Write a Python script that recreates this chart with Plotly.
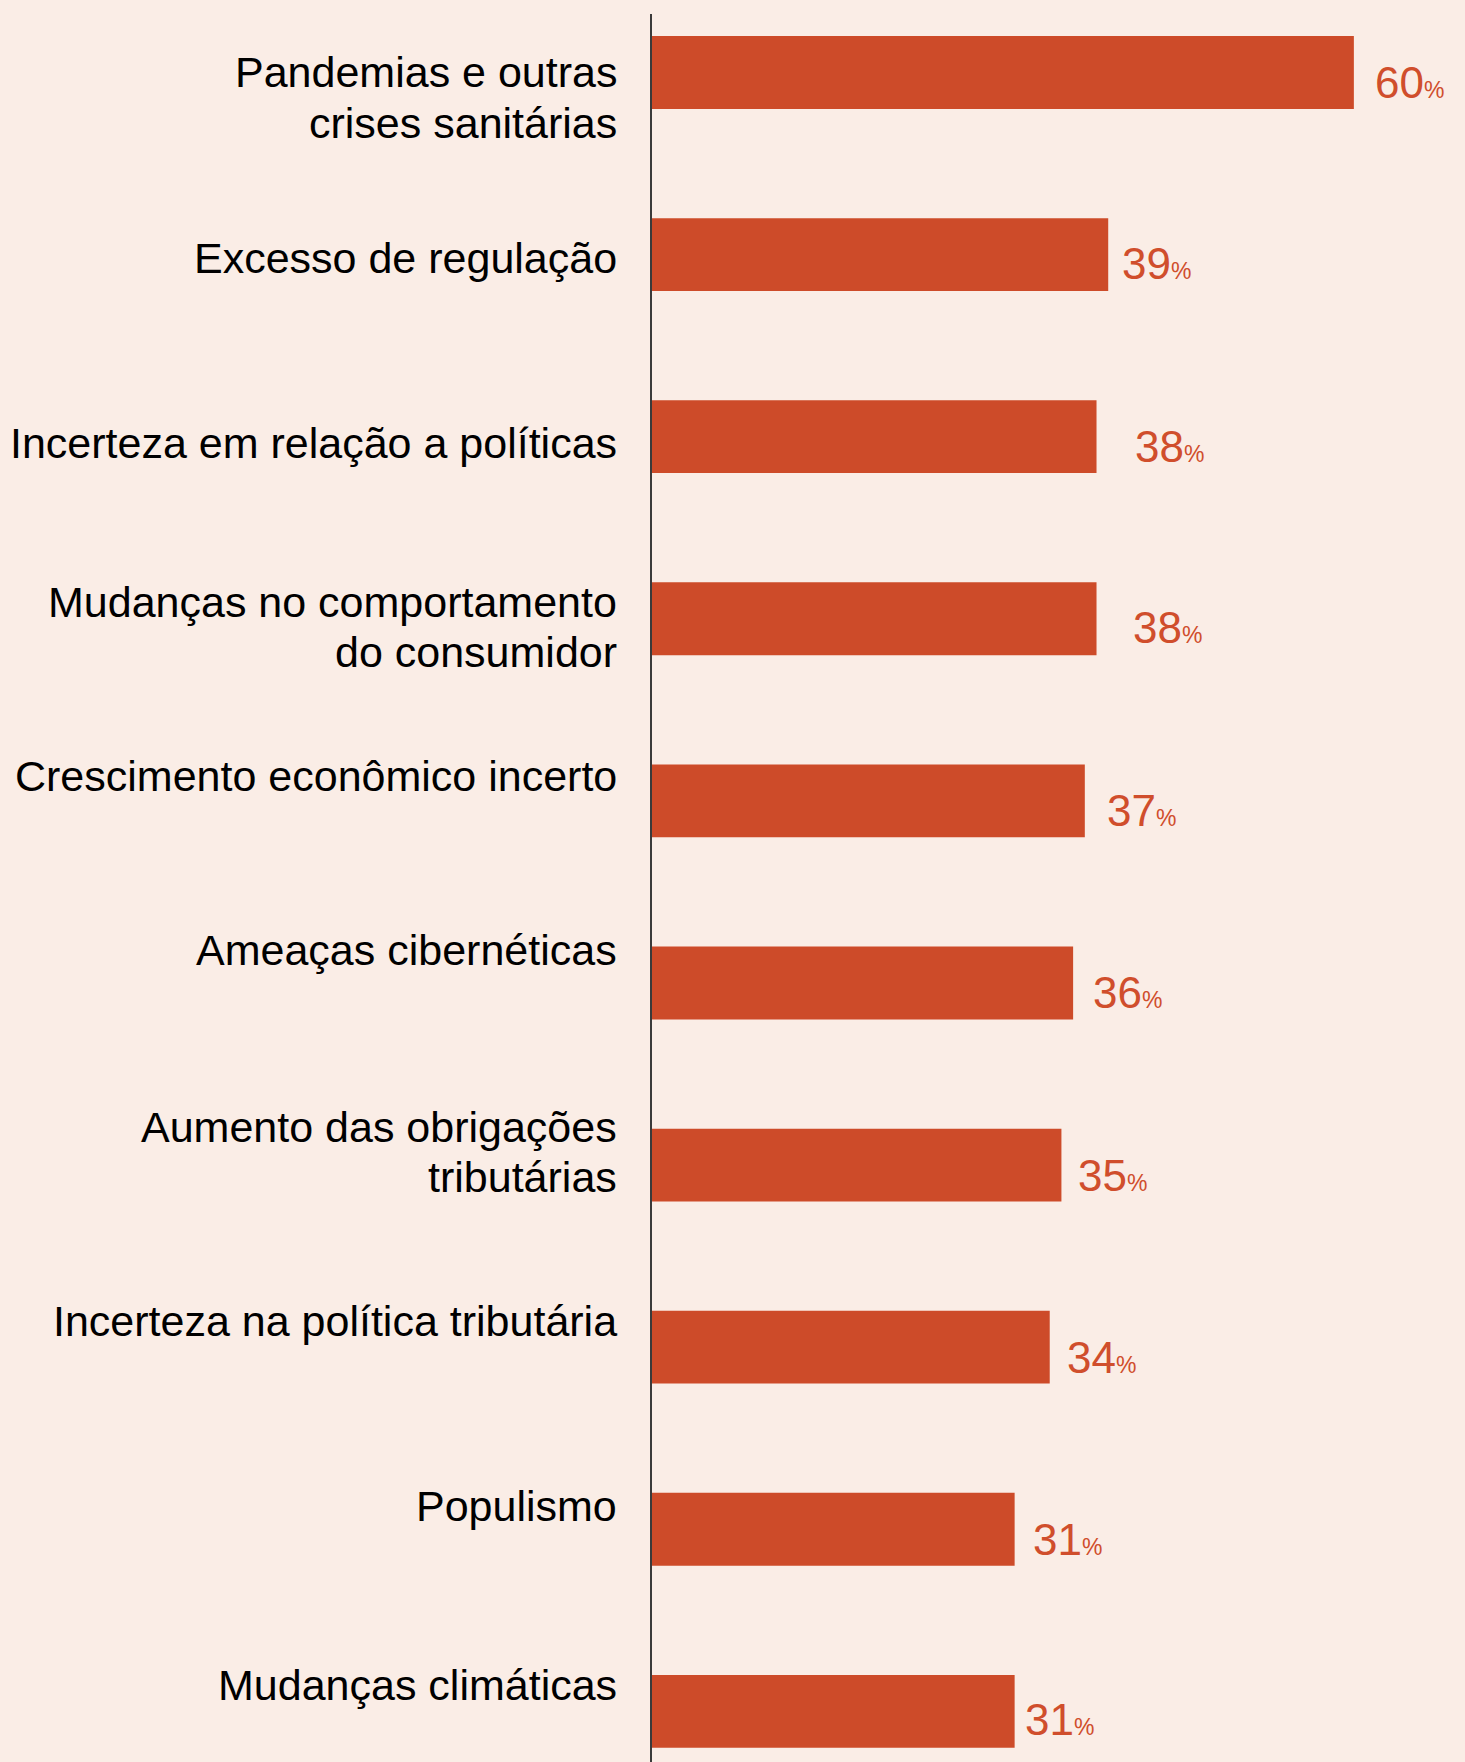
import plotly.graph_objects as go

# ---- data ----
categories = [
    "Pandemias e outras<br>crises sanitárias",
    "Excesso de regulação",
    "Incerteza em relação a políticas",
    "Mudanças no comportamento<br>do consumidor",
    "Crescimento econômico incerto",
    "Ameaças cibernéticas",
    "Aumento das obrigações<br>tributárias",
    "Incerteza na política tributária",
    "Populismo",
    "Mudanças climáticas",
]
values = [60, 39, 38, 38, 37, 36, 35, 34, 31, 31]

# ---- style ----
BG = "#FAEDE6"
BAR = "#CD4B29"
VAL_COLOR = "#D04E2C"
FONT = "Liberation Sans, Arial, Helvetica, sans-serif"
LINE_GAP = 50.5  # px between lines of a wrapped label

# fine placement nudges (pixels) for text, as in the original layout
label_yshift = [-25, -3, -6, -8, 25, 33, 13, 26, 23, 26]
value_xshift = [19, 12, 36, 34, 20, 18, 15, 15, 16, 8]
value_yshift = [-10, -9, -10, -9, -10, -10, -10, -10, -10, -8]

ids = list(range(len(categories)))

fig = go.Figure(
    go.Bar(
        x=values,
        y=ids,
        orientation="h",
        width=0.4,
        marker=dict(color=BAR, line=dict(width=0)),
        hoverinfo="skip",
    )
)

annotations = []
for i, (cat, v) in enumerate(zip(categories, values)):
    lines = cat.split("<br>")
    n = len(lines)
    for j, line in enumerate(lines):
        annotations.append(dict(
            x=0, xref="x", y=i, yref="y",
            text=line, showarrow=False,
            xanchor="right", yanchor="middle", align="right",
            xshift=-33,
            yshift=label_yshift[i] - (j - (n - 1) / 2) * LINE_GAP,
            font=dict(family=FONT, size=43, color="#000000"),
        ))
    annotations.append(dict(
        x=v, xref="x", y=i, yref="y",
        text=f"{v}<span style='font-size:23px'>%</span>",
        showarrow=False,
        xanchor="left", yanchor="middle",
        xshift=value_xshift[i], yshift=value_yshift[i],
        font=dict(family=FONT, size=44, color=VAL_COLOR),
    ))

fig.update_layout(
    width=1465, height=1762,
    paper_bgcolor=BG, plot_bgcolor=BG,
    margin=dict(l=652, r=0, t=14, b=0),
    showlegend=False,
    annotations=annotations,
    xaxis=dict(range=[0, 69.5], visible=False, fixedrange=True),
    yaxis=dict(
        range=[9.278, -0.321],
        showticklabels=False, showgrid=False, zeroline=False,
        showline=True, linecolor="#3a3a3a", linewidth=1.5,
        ticks="", fixedrange=True,
    ),
)

fig.write_html(
    "out.html",
    config={"displayModeBar": False},
    post_script="document.body.style.margin='0';document.body.style.background='" + BG + "';",
)
